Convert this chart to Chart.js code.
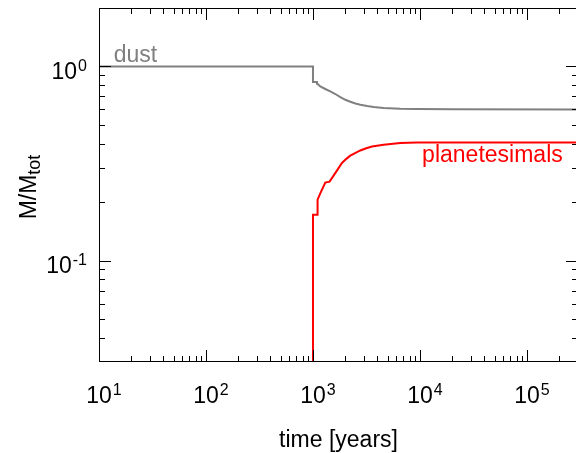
<!DOCTYPE html>
<html>
<head>
<meta charset="utf-8">
<script src="https://cdn.jsdelivr.net/npm/chart.js@4.4.1/dist/chart.umd.min.js"></script>
<style>
	html, body { margin: 0; padding: 0; background: #fff; overflow: hidden; }
	#wrap { width: 578px; height: 453px; }
</style>
</head>
<body>
<div id="wrap"><canvas id="mass-chart"></canvas></div>
<script>
// time in years, mass as fraction of total
var timeDust = [10, 1000, 1000, 1090, 1090, 1104, 1171, 1303, 1452, 1617, 1803, 2006, 2234, 2489, 2773, 3205, 3693, 4580, 6562, 9416, 20000, 300000];
var massDust = [1.0, 1.0, 0.831, 0.831, 0.814, 0.812, 0.788, 0.765, 0.743, 0.721, 0.695, 0.673, 0.658, 0.644, 0.635, 0.625, 0.618, 0.610, 0.605, 0.603, 0.601, 0.600];

var timePlan = [1000, 1000, 1104, 1104, 1170, 1303, 1429, 1615, 1866, 2050, 2232, 2500, 2768, 3150, 3560, 4570, 6550, 9380, 20000, 300000];
var massPlan = [0.001, 0.172, 0.172, 0.206, 0.222, 0.252, 0.255, 0.282, 0.318, 0.334, 0.347, 0.359, 0.369, 0.379, 0.387, 0.395, 0.403, 0.405, 0.406, 0.406];

var xTickExp = ['1', '2', '3', '4', '5'];
var yTickExp = ['-1', '0'];

var FONT = '"Liberation Sans", Arial, Helvetica, sans-serif';

function toPoints(xs, ys) {
	var pts = [];
	for (var i = 0; i < xs.length; i++) {
		pts.push({ x: xs[i], y: ys[i] });
	}
	return pts;
}

// label "10" with a superscript exponent
function drawPow(ctx, x, y, exp, align) {
	ctx.font = '23px ' + FONT;
	var wBase = ctx.measureText('10').width;
	ctx.font = '16px ' + FONT;
	var wExp = ctx.measureText(exp).width;
	var left;
	if (align === 'center') {
		left = x - wBase / 2;
	} else {
		left = x - wBase - wExp - 1;
	}
	ctx.textAlign = 'left';
	ctx.textBaseline = 'alphabetic';
	ctx.font = '23px ' + FONT;
	ctx.fillText('10', left, y);
	ctx.font = '16px ' + FONT;
	ctx.fillText(exp, left + wBase + 1, y - 8);
}

var frameTicks = {
	id: 'frameTicks',
	afterDatasetsDraw: function (chart) {
		var ctx = chart.ctx,
			a = chart.chartArea,
			xs = chart.scales.x,
			ys = chart.scales.y,
			major = 12, minor = 6, e, m, v, p, i;

		ctx.save();
		ctx.strokeStyle = '#000';
		ctx.lineWidth = 1;
		ctx.beginPath();
		ctx.rect(a.left + 0.5, a.top + 0.5, a.right - a.left - 1, a.bottom - a.top - 1);
		ctx.stroke();

		function xTick(val, len) {
			var px = Math.round(xs.getPixelForValue(val)) + 0.5;
			ctx.moveTo(px, a.bottom);
			ctx.lineTo(px, a.bottom - len);
			ctx.moveTo(px, a.top);
			ctx.lineTo(px, a.top + len);
		}
		function yTick(val, len) {
			var py = Math.round(ys.getPixelForValue(val)) + 0.5;
			ctx.moveTo(a.left, py);
			ctx.lineTo(a.left + len, py);
			ctx.moveTo(a.right, py);
			ctx.lineTo(a.right - len, py);
		}

		ctx.beginPath();
		for (e = 1; e <= 5; e++) {
			xTick(Math.pow(10, e), major);
			for (m = 2; m <= 9; m++) {
				v = m * Math.pow(10, e);
				if (v < xs.max) xTick(v, minor);
			}
		}
		for (e = -2; e <= 0; e++) {
			if (e > -2) yTick(Math.pow(10, e), major);
			for (m = 2; m <= 9; m++) {
				v = m * Math.pow(10, e);
				if (v > ys.min && v < ys.max) yTick(v, minor);
			}
		}
		ctx.stroke();

		// tick labels
		ctx.fillStyle = '#000';
		for (i = 0; i < xTickExp.length; i++) {
			p = xs.getPixelForValue(Math.pow(10, Number(xTickExp[i])));
			drawPow(ctx, p, a.bottom + 41, xTickExp[i], 'center');
		}
		for (i = 0; i < yTickExp.length; i++) {
			p = ys.getPixelForValue(Math.pow(10, Number(yTickExp[i])));
			drawPow(ctx, a.left - 12, p + 12.5, yTickExp[i], 'right');
		}

		// axis titles
		ctx.font = '23px ' + FONT;
		ctx.textAlign = 'center';
		ctx.fillText('time [years]', (a.left + a.right) / 2, 447);

		ctx.save();
		ctx.translate(36, (a.top + a.bottom) / 2 + 2);
		ctx.rotate(-Math.PI / 2);
		ctx.textAlign = 'left';
		ctx.font = '23px ' + FONT;
		var wMain = ctx.measureText('M/M').width;
		ctx.font = '18px ' + FONT;
		var wSub = ctx.measureText('tot').width;
		ctx.font = '23px ' + FONT;
		ctx.fillText('M/M', -(wMain + wSub) / 2, 0);
		ctx.font = '18px ' + FONT;
		ctx.fillText('tot', -(wMain + wSub) / 2 + wMain, 4);
		ctx.restore();

		// curve labels
		ctx.font = '23px ' + FONT;
		ctx.textAlign = 'left';
		ctx.fillStyle = 'rgb(128,128,128)';
		ctx.fillText('dust', xs.getPixelForValue(13.7), ys.getPixelForValue(1.057));
		ctx.textAlign = 'right';
		ctx.fillStyle = 'rgb(255,0,0)';
		ctx.fillText('planetesimals', xs.getPixelForValue(2.16e5), ys.getPixelForValue(0.323));

		ctx.restore();
	}
};

var ctxM = document.getElementById('mass-chart').getContext('2d');
var massChart = new Chart(ctxM, {
	type: 'scatter',
	data: {
		datasets: [
			{
				label: 'dust',
				data: toPoints(timeDust, massDust),
				showLine: true,
				borderColor: 'rgb(128,128,128)',
				borderWidth: 2,
				pointRadius: 0,
				tension: 0,
				fill: false
			},
			{
				label: 'planetesimals',
				data: toPoints(timePlan, massPlan),
				showLine: true,
				borderColor: 'rgb(255,0,0)',
				borderWidth: 2,
				pointRadius: 0,
				tension: 0,
				fill: false
			}
		]
	},
	options: {
		responsive: true,
		maintainAspectRatio: false,
		animation: false,
		layout: { padding: { left: 99, top: 8, right: 0, bottom: 91 } },
		plugins: {
			legend: { display: false },
			tooltip: { enabled: false }
		},
		scales: {
			x: { type: 'logarithmic', min: 10, max: 3e5, bounds: 'data', display: false },
			y: { type: 'logarithmic', min: 0.03, max: 2, bounds: 'data', display: false }
		}
	},
	plugins: [frameTicks]
});
</script>
</body>
</html>
